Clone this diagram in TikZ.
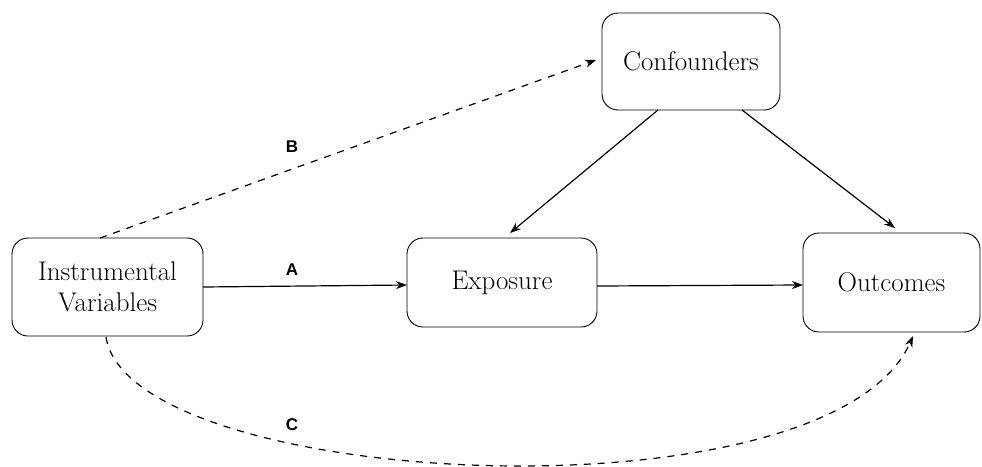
\documentclass[tikz,border=0pt]{standalone}
\usepackage{fontspec}
\setmainfont{Latin Modern Roman}
\newfontfamily\lblfont{Liberation Sans}
\usetikzlibrary{arrows.meta}
\begin{document}
\begin{tikzpicture}[x=1pt,y=-1pt,
  box/.style={draw, rounded corners=16pt, line width=0.9pt, inner sep=0pt, align=center, font=\fontsize{27}{31}\selectfont},
  conn/.style={line width=1.2pt, -{Stealth[length=11pt,width=8pt]}},
  dconn/.style={conn, dash pattern=on 7pt off 7pt},
  lbl/.style={font=\lblfont\bfseries\fontsize{17}{19}\selectfont}]
\useasboundingbox (0,0) rectangle (982,466);
\node[box, minimum width=191pt, minimum height=98pt] (iv) at (107.5,287) {Instrumental\\Variables};
\node[box, minimum width=190pt, minimum height=89pt] (ex) at (502,282.5) {Exposure};
\node[box, minimum width=177pt, minimum height=99pt] (out) at (891.5,282.5) {Outcomes};
\node[box, minimum width=178pt, minimum height=97pt] (co) at (691,61.5) {Confounders};
\coordinate (ivr) at (203,287);
\coordinate (exl) at (407,285);
\coordinate (exr) at (597,286);
\coordinate (outl) at (803,285);
\coordinate (ivt) at (100,238);
\coordinate (col) at (596,60);
\coordinate (cob1) at (658,110);
\coordinate (ext) at (510,233);
\coordinate (cob2) at (742,110);
\coordinate (outt) at (895,228);
\coordinate (ivb) at (106,337);
\coordinate (outb) at (913,336);
\draw[conn] (ivr) -- (exl);
\draw[conn] (exr) -- (outl);
\draw[dconn] (ivt) -- (col);
\draw[conn] (cob1) -- (ext);
\draw[conn] (cob2) -- (outt);
\draw[dconn] (ivb) .. controls (130,490) and (830,525) .. (outb);
\node[lbl] (la) at (292,270) {A};
\node[lbl] (lb) at (292,147) {B};
\node[lbl] (lc) at (292,425) {C};
\end{tikzpicture}
\end{document}
